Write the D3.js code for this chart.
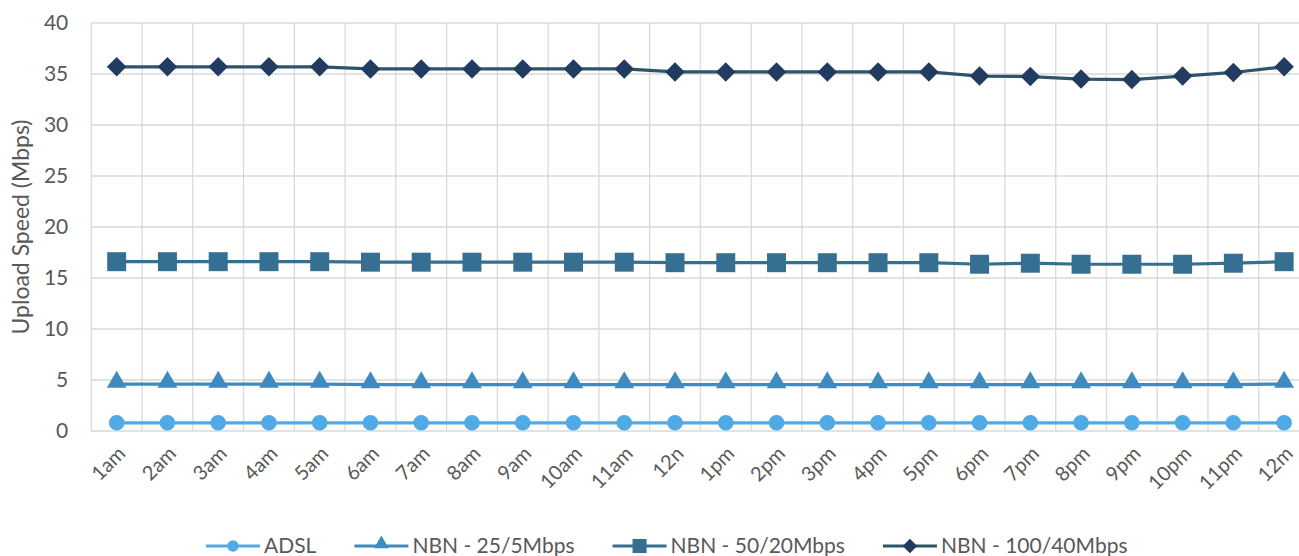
<!DOCTYPE html>
<html>
<head>
<meta charset="utf-8">
<script src="https://cdn.jsdelivr.net/npm/d3@7"></script>
<style>
  body { margin: 0; background: #fff; }
  svg text { font-family: Lato, "Open Sans", sans-serif; fill: #595959; }
</style>
</head>
<body>
<svg width="1299" height="556"></svg>
<script>
var hours = ["1am","2am","3am","4am","5am","6am","7am","8am","9am","10am","11am","12n",
             "1pm","2pm","3pm","4pm","5pm","6pm","7pm","8pm","9pm","10pm","11pm","12m"];
var yTicks = [0, 5, 10, 15, 20, 25, 30, 35, 40];

var adsl   = [0.8,0.8,0.8,0.8,0.8,0.8,0.8,0.8,0.8,0.8,0.8,0.8,0.8,0.8,0.8,0.8,0.8,0.8,0.8,0.8,0.8,0.8,0.8,0.8];
var nbn25  = [4.6,4.6,4.6,4.6,4.6,4.55,4.55,4.55,4.55,4.55,4.55,4.55,4.55,4.55,4.55,4.55,4.55,4.55,4.55,4.55,4.55,4.55,4.55,4.6];
var nbn50  = [16.6,16.6,16.6,16.6,16.6,16.55,16.55,16.55,16.55,16.55,16.55,16.5,16.5,16.5,16.5,16.5,16.5,16.35,16.45,16.35,16.35,16.35,16.45,16.6];
var nbn100 = [35.7,35.7,35.7,35.7,35.7,35.5,35.5,35.5,35.5,35.5,35.5,35.2,35.2,35.2,35.2,35.2,35.2,34.8,34.75,34.5,34.45,34.8,35.15,35.7];

var seriesNames = ["ADSL", "NBN - 25/5Mbps", "NBN - 50/20Mbps", "NBN - 100/40Mbps"];

(function () {
  var series = [
    { name: seriesNames[0], values: adsl,   line: "#4FAAE6", fill: "#4FAAE6", shape: "circle" },
    { name: seriesNames[1], values: nbn25,  line: "#3F8BC0", fill: "#3F8BC0", shape: "triangle" },
    { name: seriesNames[2], values: nbn50,  line: "#356F92", fill: "#356F92", shape: "square" },
    { name: seriesNames[3], values: nbn100, line: "#2C5569", fill: "#213C60", shape: "diamond" }
  ];

  var svg = d3.select("svg");
  var plotLeft = 91.3, plotRight = 1309.5, plotTop = 23, plotBottom = 431;

  var x = d3.scaleBand().domain(hours).range([plotLeft, plotRight]);
  var y = d3.scaleLinear().domain([0, 40]).range([plotBottom, plotTop]);

  // gridlines
  var grid = svg.append("g");
  grid.selectAll(".h").data(yTicks).enter().append("line")
    .attr("x1", plotLeft).attr("x2", plotRight)
    .attr("y1", function (d) { return y(d); }).attr("y2", function (d) { return y(d); })
    .attr("stroke", "#D9D9D9").attr("stroke-width", 1.3);
  grid.selectAll(".v").data(hours.concat(["end"])).enter().append("line")
    .attr("x1", function (d, i) { return plotLeft + i * x.bandwidth(); })
    .attr("x2", function (d, i) { return plotLeft + i * x.bandwidth(); })
    .attr("y1", plotTop).attr("y2", plotBottom)
    .attr("stroke", "#D9D9D9").attr("stroke-width", 1.3);

  // y axis labels
  var yAxis = d3.axisLeft(y).tickValues(yTicks).tickSize(0).tickPadding(23);
  svg.append("g").attr("transform", "translate(" + plotLeft + ",0)").call(yAxis)
    .call(function (g) { g.select(".domain").remove(); })
    .selectAll("text").style("font-size", "21px").attr("fill", "#595959");

  // x axis labels
  var xAxis = d3.axisBottom(x).tickSize(0).tickPadding(0);
  svg.append("g").attr("transform", "translate(0," + plotBottom + ")").call(xAxis)
    .call(function (g) { g.select(".domain").remove(); })
    .selectAll("text")
    .style("font-size", "20px").attr("fill", "#595959")
    .attr("text-anchor", "end")
    .attr("dy", "0.35em").attr("y", 0)
    .attr("transform", "translate(5,19) rotate(-45)");

  // y title
  svg.append("text")
    .attr("transform", "translate(29," + ((plotTop + plotBottom) / 2) + ") rotate(-90)")
    .attr("text-anchor", "middle")
    .style("font-size", "23px")
    .text("Upload Speed (Mbps)");

  var types = { circle: d3.symbolCircle, triangle: d3.symbolTriangle, square: d3.symbolSquare, diamond: d3.symbolSquare };
  var sizes = { circle: 190, triangle: 170, square: 360, diamond: 190 };

  function marker(sel, shape, size, color) {
    var p = sel.append("path").attr("d", d3.symbol().type(types[shape]).size(size)).attr("fill", color);
    if (shape === "diamond") p.attr("transform", "rotate(45)");
    if (shape === "triangle") p.attr("transform", "translate(0,-2)");
    return p;
  }

  var line = d3.line()
    .x(function (d, i) { return x(hours[i]) + x.bandwidth() / 2; })
    .y(function (d) { return y(d); });

  series.forEach(function (s) {
    svg.append("path").datum(s.values)
      .attr("d", line)
      .attr("fill", "none").attr("stroke", s.line).attr("stroke-width", 3.2);
    var g = svg.append("g");
    s.values.forEach(function (v, i) {
      var m = g.append("g").attr("transform", "translate(" + (x(hours[i]) + x.bandwidth() / 2) + "," + y(v) + ")");
      marker(m, s.shape, sizes[s.shape], s.fill);
    });
  });

  // legend
  var legend = svg.append("g").attr("transform", "translate(206,546)");
  var lx = 0;
  series.forEach(function (s) {
    var item = legend.append("g").attr("transform", "translate(" + lx + ",0)");
    item.append("line").attr("x1", 0).attr("x2", 54).attr("y1", 0).attr("y2", 0)
      .attr("stroke", s.line).attr("stroke-width", 3.2);
    var m = item.append("g").attr("transform", "translate(27,0)");
    marker(m, s.shape, sizes[s.shape] * 0.55, s.fill);
    var t = item.append("text").attr("x", 58).attr("y", 0).attr("dy", "0.35em")
      .style("font-size", "21px").text(s.name);
    lx += 58 + t.node().getComputedTextLength() + 38;
  });
})();
</script>
</body>
</html>
